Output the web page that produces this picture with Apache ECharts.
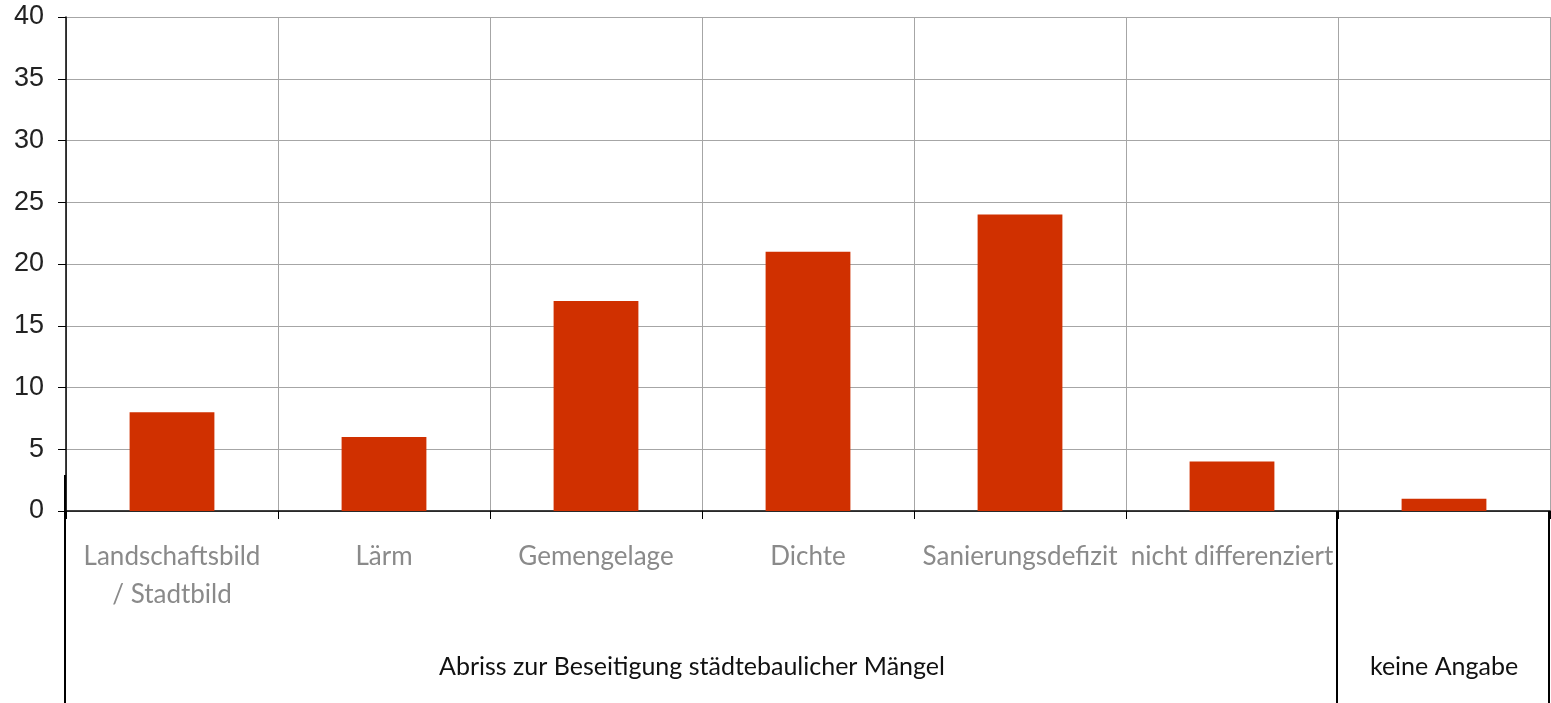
<!DOCTYPE html>
<html><head><meta charset="utf-8">
<script src="https://cdn.jsdelivr.net/npm/echarts@6/dist/echarts.min.js"></script>
<style>html,body{margin:0;padding:0;background:#fff}#c{width:1551px;height:703px}</style>
</head><body><div id="c"></div>
<script>
const categories = ['Landschaftsbild\n/ Stadtbild', 'Lärm', 'Gemengelage', 'Dichte', 'Sanierungsdefizit', 'nicht differenziert', ''];
const values = [8, 6, 17, 21, 24, 4, 1];
const groups = [
  { label: 'Abriss zur Beseitigung städtebaulicher Mängel', first: 0, last: 5 },
  { label: 'keine Angabe', first: 6, last: 6 }
];
const yTicks = { min: 0, max: 40, interval: 5 };

const chart = echarts.init(document.getElementById('c'), null, { renderer: 'canvas' });
const option = {
  animation: false,
  grid: { left: 66, right: 1, top: 17, bottom: 192, containLabel: false },
  xAxis: {
    type: 'category', data: categories, boundaryGap: true,
    axisLine: { show: true, lineStyle: { color: '#000', width: 1.5 } },
    axisTick: { show: true, interval: 0, length: 8, lineStyle: { color: '#000' } },
    splitLine: { show: true, interval: 0, lineStyle: { color: '#a6a6a6', width: 1 } },
    axisLabel: { interval: 0, color: '#8a8a8a', fontFamily: 'Lato', fontSize: 26, lineHeight: 38, margin: 27 }
  },
  yAxis: {
    type: 'value', min: yTicks.min, max: yTicks.max, interval: yTicks.interval,
    axisLine: { show: true, lineStyle: { color: '#000', width: 1.5 } },
    axisTick: { show: true, length: 8, lineStyle: { color: '#000' } },
    splitLine: { show: true, lineStyle: { color: '#a6a6a6', width: 1 } },
    axisLabel: { color: '#222', fontFamily: 'Liberation Sans', fontSize: 27, margin: 22 }
  },
  series: [{
    type: 'bar', data: values, barWidth: '40%',
    itemStyle: { color: '#d03000' }, z: 3
  }]
};
chart.setOption(option);

// group brackets under the axis, positioned from the category scale
const x0 = chart.convertToPixel({ xAxisIndex: 0 }, 0);
const x1 = chart.convertToPixel({ xAxisIndex: 0 }, 1);
const band = x1 - x0;
const axisY = chart.convertToPixel({ yAxisIndex: 0 }, 0);
const H = 703;
const elems = [];
groups.forEach((g, i) => {
  const left = chart.convertToPixel({ xAxisIndex: 0 }, g.first) - band / 2;
  const right = chart.convertToPixel({ xAxisIndex: 0 }, g.last) + band / 2;
  const top = i === 0 ? axisY - 36 : axisY;
  elems.push({ type: 'line', shape: { x1: left - 1, y1: top, x2: left - 1, y2: H }, style: { stroke: '#000', lineWidth: 2 }, z: 10 });
  if (i === groups.length - 1) {
    elems.push({ type: 'line', shape: { x1: right - 1, y1: axisY, x2: right - 1, y2: H }, style: { stroke: '#000', lineWidth: 2 }, z: 10 });
  }
  elems.push({ type: 'text', x: (left + right) / 2 - 10 * (i === 0 ? 1 : 0), y: 667,
    style: { text: g.label, fill: '#111', font: '25px Lato', textAlign: 'center', textVerticalAlign: 'middle' }, z: 10 });
});
chart.setOption({ graphic: elems });
</script></body></html>
